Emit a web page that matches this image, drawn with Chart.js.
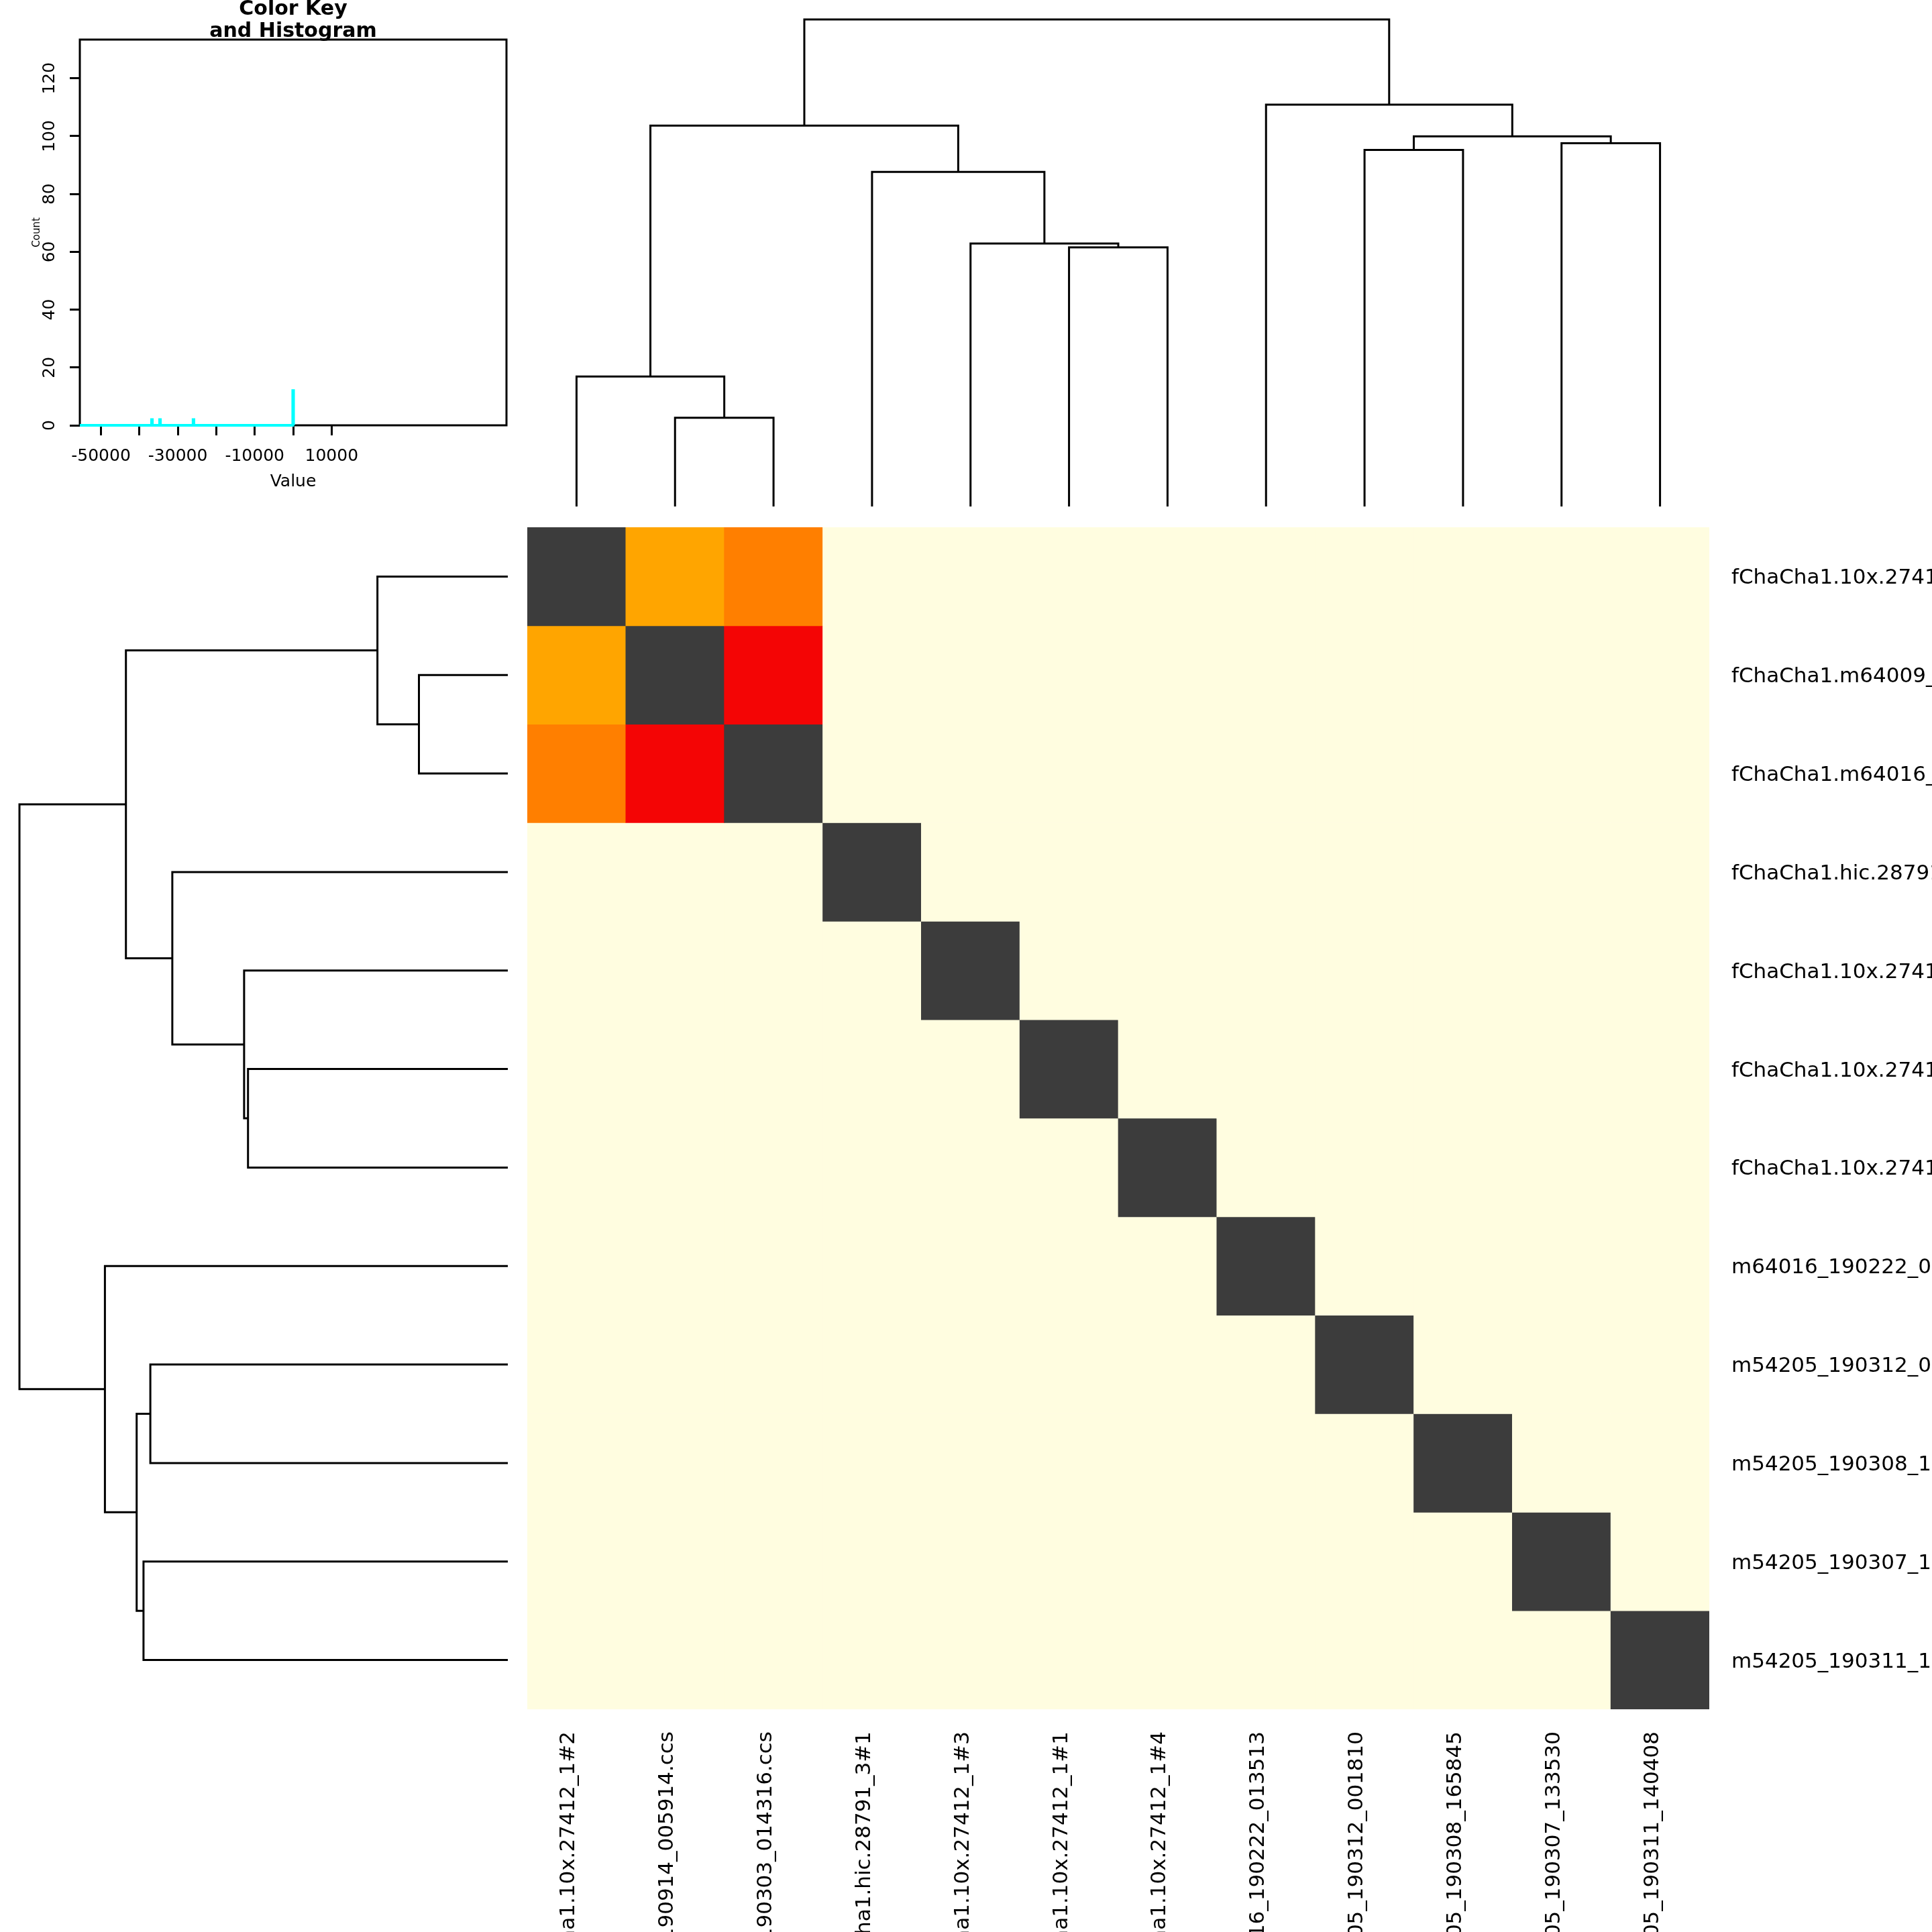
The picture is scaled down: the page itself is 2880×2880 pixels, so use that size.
<!DOCTYPE html>
<html><head><meta charset="utf-8">
<script src="https://cdn.jsdelivr.net/npm/chart.js@4.4.1/dist/chart.umd.min.js"></script>
<style>
html,body{margin:0;padding:0;background:#fff;width:2880px;height:2880px;overflow:hidden}
.pane{position:absolute}
canvas{display:block}
</style></head><body>
<div class="pane" style="left:0;top:0;width:780px;height:780px"><canvas id="cKey" width="780" height="780"></canvas></div>
<div class="pane" style="left:786px;top:0;width:1762px;height:775px"><canvas id="cColTree" width="1762" height="775"></canvas></div>
<div class="pane" style="left:0;top:786px;width:786px;height:1762px"><canvas id="cRowTree" width="786" height="1762"></canvas></div>
<div class="pane" style="left:786px;top:786px;width:2094px;height:2094px"><canvas id="cHeat" width="2094" height="2094"></canvas></div>
<script>
// ---------------- data ----------------
const rowLabels = [
  "fChaCha1.10x.27412_1#2",
  "fChaCha1.m64009_190914_005914.ccs",
  "fChaCha1.m64016_190303_014316.ccs",
  "fChaCha1.hic.28791_3#1",
  "fChaCha1.10x.27412_1#3",
  "fChaCha1.10x.27412_1#1",
  "fChaCha1.10x.27412_1#4",
  "m64016_190222_013513",
  "m54205_190312_001810",
  "m54205_190308_165845",
  "m54205_190307_133530",
  "m54205_190311_140408"
];
const colLabels = rowLabels.slice();

const NA = null;
const cellValues = [
  [0, -25930, -34640, NA, NA, NA, NA, NA, NA, NA, NA, NA],
  [-25930, 0, -36730, NA, NA, NA, NA, NA, NA, NA, NA, NA],
  [-34640, -36730, 0, NA, NA, NA, NA, NA, NA, NA, NA, NA],
  [NA, NA, NA, 0, NA, NA, NA, NA, NA, NA, NA, NA],
  [NA, NA, NA, NA, 0, NA, NA, NA, NA, NA, NA, NA],
  [NA, NA, NA, NA, NA, 0, NA, NA, NA, NA, NA, NA],
  [NA, NA, NA, NA, NA, NA, 0, NA, NA, NA, NA, NA],
  [NA, NA, NA, NA, NA, NA, NA, 0, NA, NA, NA, NA],
  [NA, NA, NA, NA, NA, NA, NA, NA, 0, NA, NA, NA],
  [NA, NA, NA, NA, NA, NA, NA, NA, NA, 0, NA, NA],
  [NA, NA, NA, NA, NA, NA, NA, NA, NA, NA, 0, NA],
  [NA, NA, NA, NA, NA, NA, NA, NA, NA, NA, NA, 0]
];

// dendrogram (hclust-style merges; negative = leaf position, positive = earlier merge)
const mergeLeft   = [-2, -1, -6, -5, -4, 2, -9, -11, 7, -8, 6];
const mergeRight  = [-3, 1, -7, 3, 4, 5, -10, -12, 8, 9, 10];
const mergeHeight = [18.2, 26.7, 53.2, 54.0, 68.7, 78.2, 73.2, 74.6, 76.0, 82.5, 100];

// colour key histogram
const keyRange = [-55500, 55500];
const keyTicks = [-50000, -40000, -30000, -20000, -10000, 0, 10000];
const keyTickLabels = [-50000, -30000, -10000, 10000];
const countMax = 133.4;
const countTicks = [0, 20, 40, 60, 80, 100, 120];
const histMids = [-36730, -34640, -25930, 0];
const histCounts = [2, 2, 2, 12];
const histBinWidth = 200;

// ---------------- styles ----------------
const NA_COLOUR = '#FFFDE0';
const palette = [
  {upTo: -36000, colour: '#F40505'},
  {upTo: -30000, colour: '#FF7F00'},
  {upTo: -1, colour: '#FFA500'},
  {upTo: Infinity, colour: '#3C3C3C'}
];
function cellColour(v) {
  if (v === null) return NA_COLOUR;
  for (const p of palette) if (v <= p.upTo) return p.colour;
}
const FONT = "'DejaVu Sans', 'Liberation Sans', sans-serif";
Chart.defaults.font.family = FONT;
Chart.defaults.color = '#000';
Chart.defaults.animation = false;
Chart.defaults.events = [];
Chart.defaults.plugins.legend.display = false;
Chart.defaults.plugins.tooltip.enabled = false;

// ---------------- tree geometry from merges ----------------
const nodes = [];
function nodeOf(id) { return id < 0 ? {p: -id - 0.5, h: 0} : nodes[id - 1]; }
mergeLeft.forEach((a, i) => {
  const A = nodeOf(a), B = nodeOf(mergeRight[i]);
  nodes.push({p: (A.p + B.p) / 2, h: mergeHeight[i], A, B});
});
const rootHeight = Math.max(...mergeHeight);
const lineStyle = {showLine: true, borderColor: '#000', borderWidth: 3, pointRadius: 0, fill: false, tension: 0, clip: false};

// column dendrogram
new Chart(document.getElementById('cColTree'), {
  type: 'scatter',
  data: {datasets: nodes.map(n => Object.assign({
    data: [{x: n.A.p, y: n.A.h}, {x: n.A.p, y: n.h}, {x: n.B.p, y: n.h}, {x: n.B.p, y: n.B.h}]
  }, lineStyle))},
  options: {
    responsive: false,
    layout: {padding: {top: 29, bottom: 20, left: 0, right: 0}, autoPadding: false},
    scales: {
      x: {type: 'linear', min: 0, max: colLabels.length, display: false},
      y: {type: 'linear', min: 0, max: rootHeight, display: false}
    }
  }
});

// row dendrogram
new Chart(document.getElementById('cRowTree'), {
  type: 'scatter',
  data: {datasets: nodes.map(n => Object.assign({
    data: [{x: n.A.h, y: n.A.p}, {x: n.h, y: n.A.p}, {x: n.h, y: n.B.p}, {x: n.B.h, y: n.B.p}]
  }, lineStyle))},
  options: {
    responsive: false,
    layout: {padding: {top: 0, bottom: 0, left: 29, right: 29}, autoPadding: false},
    scales: {
      x: {type: 'linear', min: 0, max: rootHeight, reverse: true, display: false},
      y: {type: 'linear', min: 0, max: rowLabels.length, reverse: true, display: false}
    }
  }
});

// heatmap
new Chart(document.getElementById('cHeat'), {
  type: 'bar',
  data: {
    labels: colLabels,
    datasets: rowLabels.map((r, ri) => ({
      label: r,
      data: colLabels.map(() => [ri, ri + 1]),
      backgroundColor: cellValues[ri].map(cellColour),
      borderWidth: 0,
      barPercentage: 1,
      categoryPercentage: 1,
      grouped: false,
      yAxisID: 'y'
    }))
  },
  options: {
    responsive: false,
    layout: {padding: 0, autoPadding: false},
    scales: {
      x: {
        type: 'category', position: 'bottom', offset: true,
        grid: {display: false, drawTicks: false}, border: {display: false},
        ticks: {autoSkip: false, minRotation: 90, maxRotation: 90, padding: 33, labelOffset: -11, font: {size: 31}, color: '#000'},
        afterFit: s => { s.height = 332; s.paddingLeft = 0; s.paddingRight = 0; }
      },
      y: {type: 'linear', min: 0, max: rowLabels.length, reverse: true, display: false},
      yLabels: {
        type: 'category', axis: 'y', position: 'right', labels: rowLabels, offset: true,
        grid: {display: false, drawTicks: false}, border: {display: false},
        ticks: {autoSkip: false, padding: 33, labelOffset: 3, font: {size: 31}, color: '#000'},
        afterFit: s => { s.width = 332; s.paddingTop = 0; s.paddingBottom = 0; }
      }
    }
  }
});

// colour key & histogram
const histPath = [{x: keyRange[0], y: 0}];
histMids.forEach((m, i) => {
  const a = m - histBinWidth / 2, b = m + histBinWidth / 2;
  histPath.push({x: a, y: 0}, {x: a, y: histCounts[i]}, {x: b, y: histCounts[i]}, {x: b, y: 0});
});
const keyPlugin = {
  id: 'keyDeco',
  beforeDatasetsDraw(chart) {
    const {ctx, chartArea: a} = chart;
    ctx.save();
    ctx.strokeStyle = '#000'; ctx.lineWidth = 3;
    ctx.strokeRect(a.left, a.top, a.right - a.left, a.bottom - a.top);
    ctx.restore();
  },
  afterDraw(chart) {
    const {ctx, chartArea: a} = chart;
    const cx = (a.left + a.right) / 2;
    ctx.save();
    ctx.fillStyle = '#000';
    ctx.font = 'bold 30px ' + FONT;
    ctx.textAlign = 'center'; ctx.textBaseline = 'alphabetic';
    ctx.fillText('Color Key', cx, 22);
    ctx.fillText('and Histogram', cx, 55);
    ctx.restore();
  }
};
new Chart(document.getElementById('cKey'), {
  type: 'scatter',
  data: {datasets: [{data: histPath, showLine: true, borderColor: '#00FFFF', borderWidth: 4, pointRadius: 0, fill: false, tension: 0, clip: false}]},
  options: {
    responsive: false,
    layout: {padding: {top: 59, right: 25, left: 0, bottom: 0}, autoPadding: false},
    scales: {
      x: {
        type: 'linear', min: keyRange[0], max: keyRange[1],
        afterBuildTicks: s => { s.ticks = keyTicks.map(v => ({value: v})); },
        grid: {drawOnChartArea: false, drawTicks: true, tickLength: 15, lineWidth: 3, color: '#000'},
        border: {display: false},
        ticks: {autoSkip: false, maxRotation: 0, padding: 16, font: {size: 25}, color: '#000',
          callback: v => keyTickLabels.includes(v) ? String(v) : ''},
        title: {display: true, text: 'Value', font: {size: 25}, color: '#000', padding: {top: 0, bottom: 47}},
        afterFit: s => { s.height = 146; }
      },
      y: {
        type: 'linear', min: 0, max: countMax,
        afterBuildTicks: s => { s.ticks = countTicks.map(v => ({value: v})); },
        grid: {drawOnChartArea: false, drawTicks: true, tickLength: 15, lineWidth: 3, color: '#000'},
        border: {display: false},
        ticks: {autoSkip: false, minRotation: 90, maxRotation: 90, crossAlign: 'center', padding: 6, font: {size: 25}, color: '#000',
          callback: v => String(v)},
        title: {display: true, text: 'Count', font: {size: 15}, color: '#000', padding: {top: 46, bottom: 0}},
        afterFit: s => { s.width = 119; }
      }
    }
  },
  plugins: [keyPlugin]
});
</script>
</body></html>
